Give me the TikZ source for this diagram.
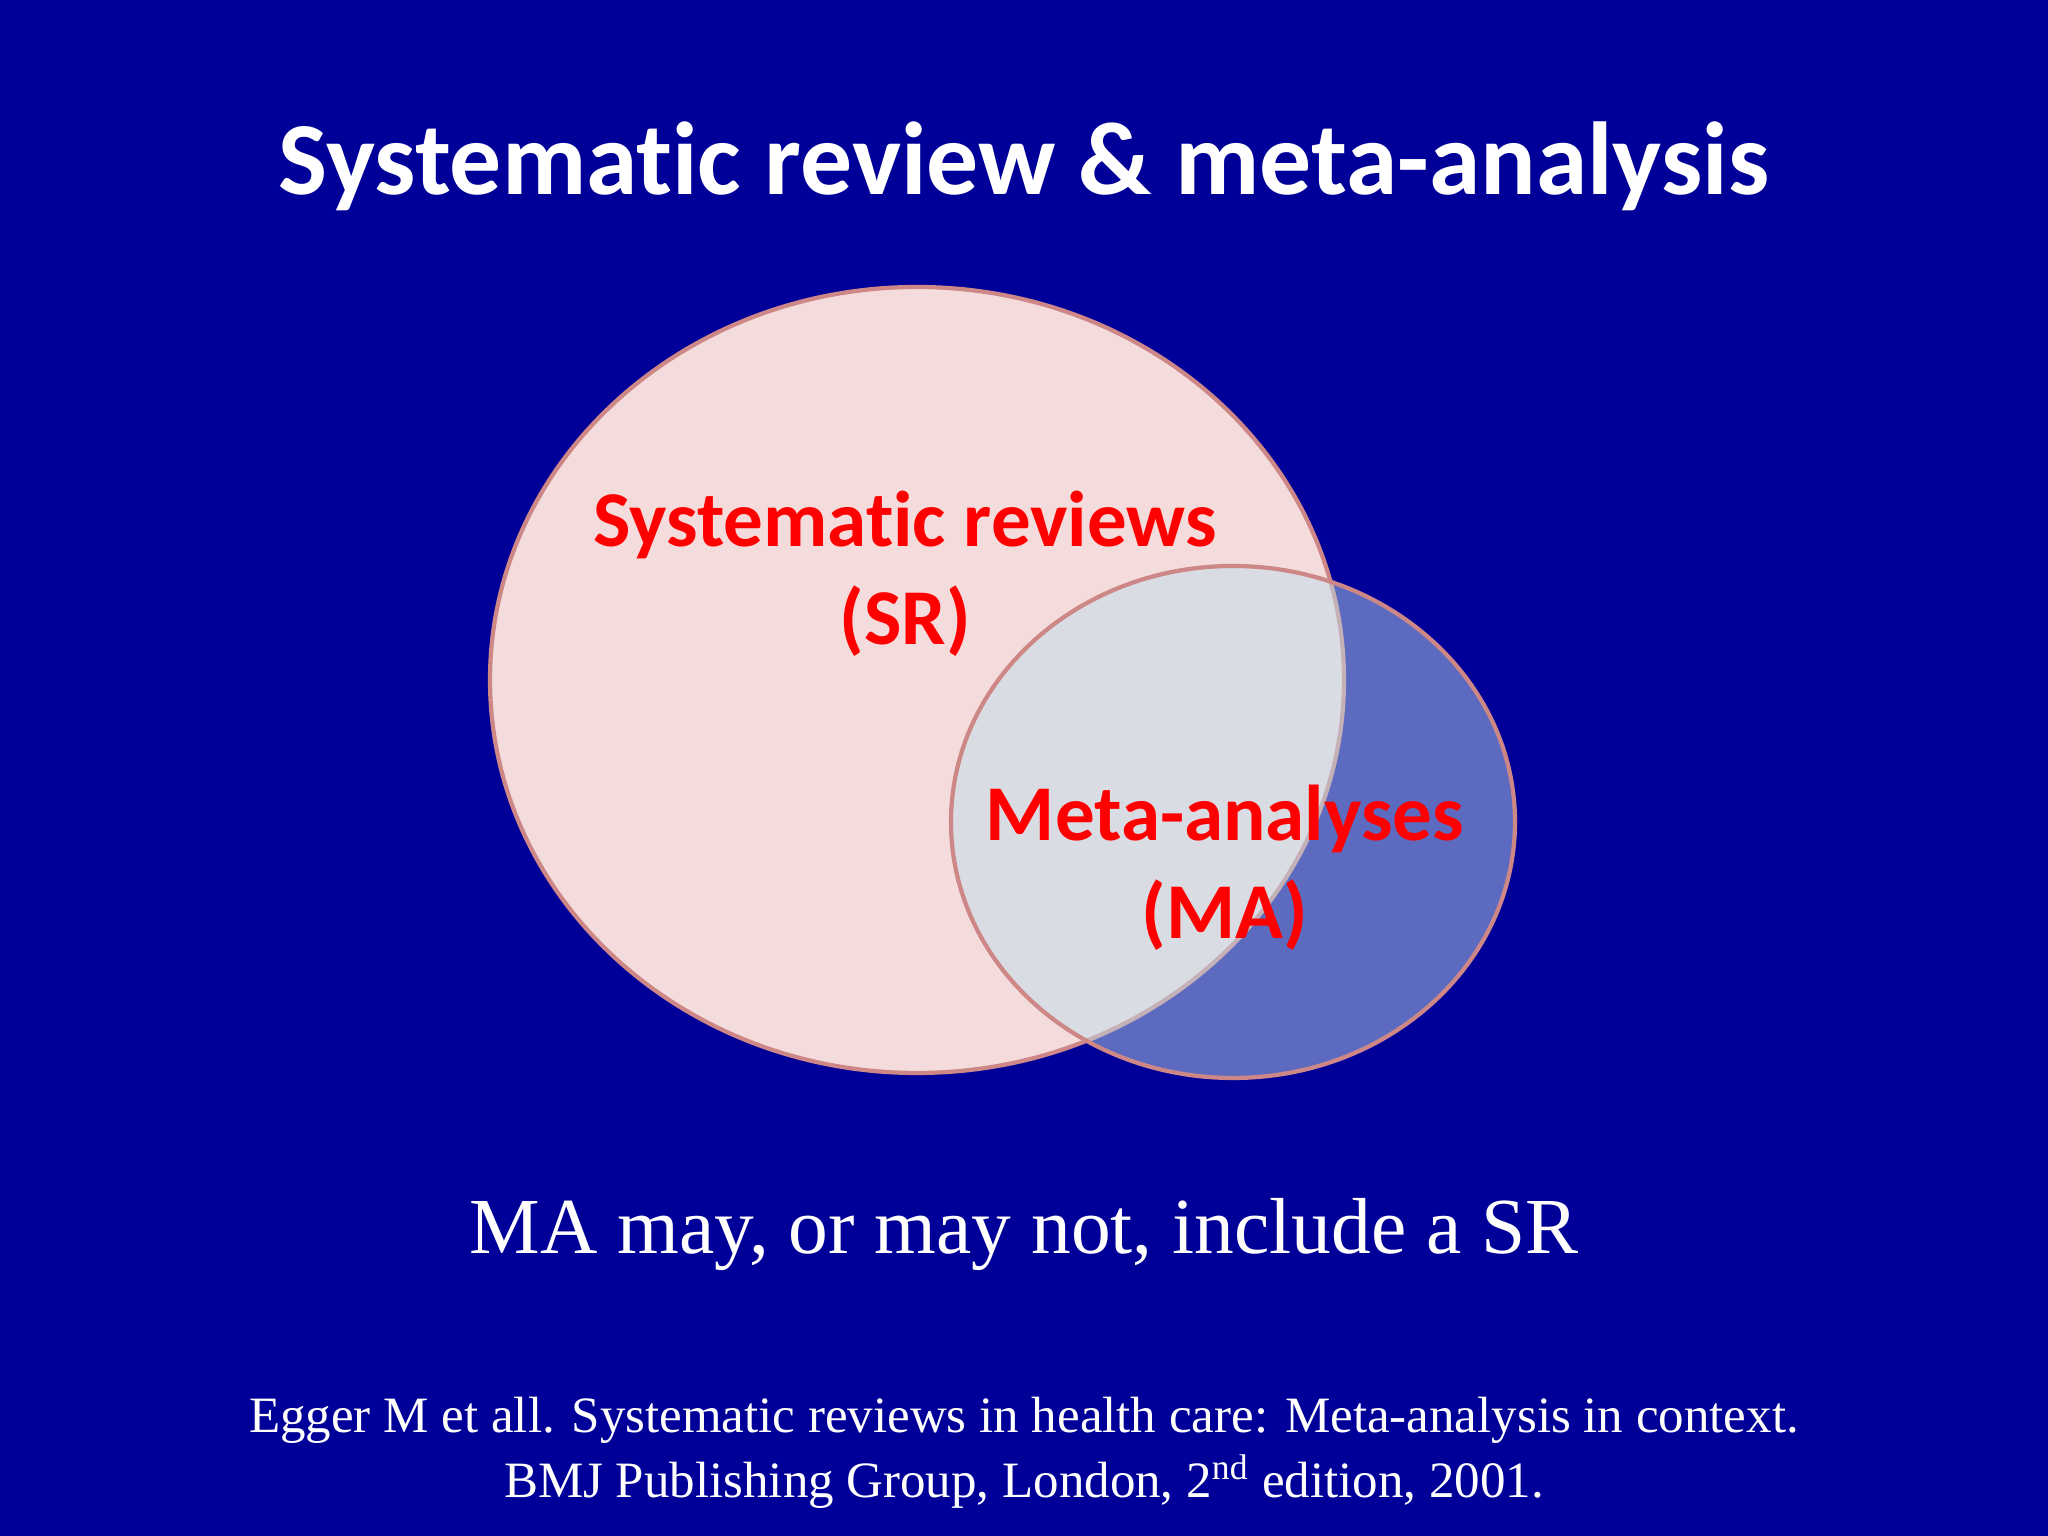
\documentclass[tikz,border=0pt]{standalone}
\usepackage{fontspec}
\setmainfont{Liberation Serif}
\newfontfamily\calfont[Ligatures=NoCommon]{Carlito}
\definecolor{bg}{RGB}{0,0,153}
\definecolor{pinkf}{RGB}{245,220,220}
\definecolor{edge}{RGB}{205,135,135}
\definecolor{maf}{RGB}{188,220,233}
\tikzset{lbl/.style={text=red,font=\calfont\bfseries\fontsize{22.5}{28}\selectfont,align=center}}
\begin{document}
\begin{tikzpicture}
\fill[bg] (0,0) rectangle (20.48,15.36);
\useasboundingbox (0,0) rectangle (20.48,15.36);
\node[text=white,font=\calfont\bfseries\fontsize{29.5}{36}\selectfont] (title) at (10.24,13.70) {Systematic review \& meta-analysis};
\draw[edge,line width=1.2pt,fill=pinkf] (9.17,8.56) ellipse [x radius=4.27,y radius=3.93];
\draw[edge,line width=1.2pt,fill=maf,fill opacity=0.49] (12.33,7.14) ellipse [x radius=2.82,y radius=2.56];
\node[lbl] (sr) at (9.05,9.62) {Systematic reviews\\(SR)};
\node[lbl] (ma) at (12.25,6.68) {Meta-analyses\\(MA)};
\node[text=white,font=\fontsize{22.6}{26}\selectfont] (cap) at (10.24,3.01) {MA may, or may not, include a SR};
\node[text=white,font=\fontsize{14.5}{18.5}\selectfont,align=center] (ref) at (10.24,0.83) {Egger M et all. Systematic reviews in health care: Meta-analysis in context.\\BMJ Publishing Group, London, 2\textsuperscript{nd} edition, 2001.};
\end{tikzpicture}
\end{document}
